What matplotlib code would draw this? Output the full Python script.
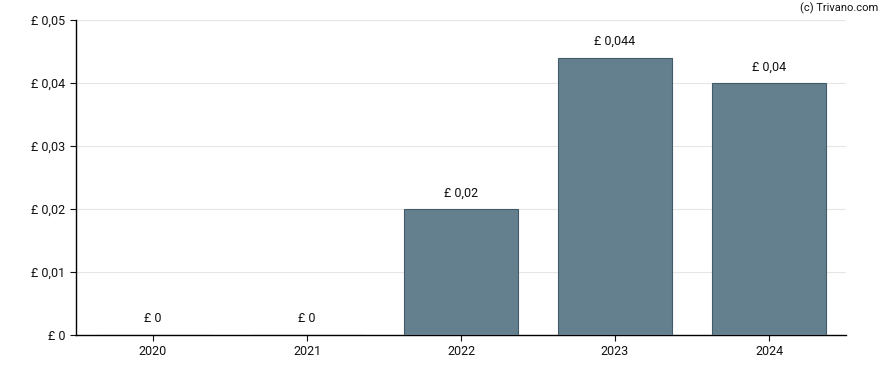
import matplotlib
matplotlib.use('Agg')
import matplotlib.pyplot as plt

plt.rcParams['font.family'] = ['Roboto', 'DejaVu Sans']

years = ['2020', '2021', '2022', '2023', '2024']
dividends = [0.0, 0.0, 0.02, 0.044, 0.04]
bar_labels = ['£ 0', '£ 0', '£ 0,02', '£ 0,044', '£ 0,04']
yticks = [0, 0.01, 0.02, 0.03, 0.04, 0.05]
ytick_labels = ['£ 0', '£ 0,01', '£ 0,02', '£ 0,03', '£ 0,04', '£ 0,05']

fig = plt.figure(figsize=(8.88, 3.70), dpi=100)
ax = fig.add_axes([76/888, 35/370, 770/888, 315/370])

x = range(len(years))
ax.bar(x, dividends, width=0.74, color='#64808f', edgecolor='#435a69',
       linewidth=0.8, zorder=3)
for i, (v, lbl) in enumerate(zip(dividends, bar_labels)):
    ax.annotate(lbl, (i, v), xytext=(0, 7), textcoords='offset points',
                ha='center', va='bottom', fontsize=9, color='#111111')

ax.set_xlim(-0.5, len(years) - 0.5)
ax.set_ylim(0, 0.05)
ax.set_xticks(list(x))
ax.set_xticklabels(years)
ax.set_yticks(yticks)
ax.set_yticklabels(ytick_labels)
ax.tick_params(labelsize=9, colors='#111111', length=4, width=0.8)
ax.grid(axis='y', color='#e6e6e6', linewidth=0.8, zorder=0)
ax.spines['top'].set_visible(False)
ax.spines['right'].set_visible(False)
for s in ('left', 'bottom'):
    ax.spines[s].set_linewidth(1.0)
    ax.spines[s].set_color('black')

fig.text(878/888, 1 - 8/370, '(c) Trivano.com', ha='right', va='center',
         fontsize=8, color='#111111')

fig.savefig('out.png', dpi=100, facecolor='white')
